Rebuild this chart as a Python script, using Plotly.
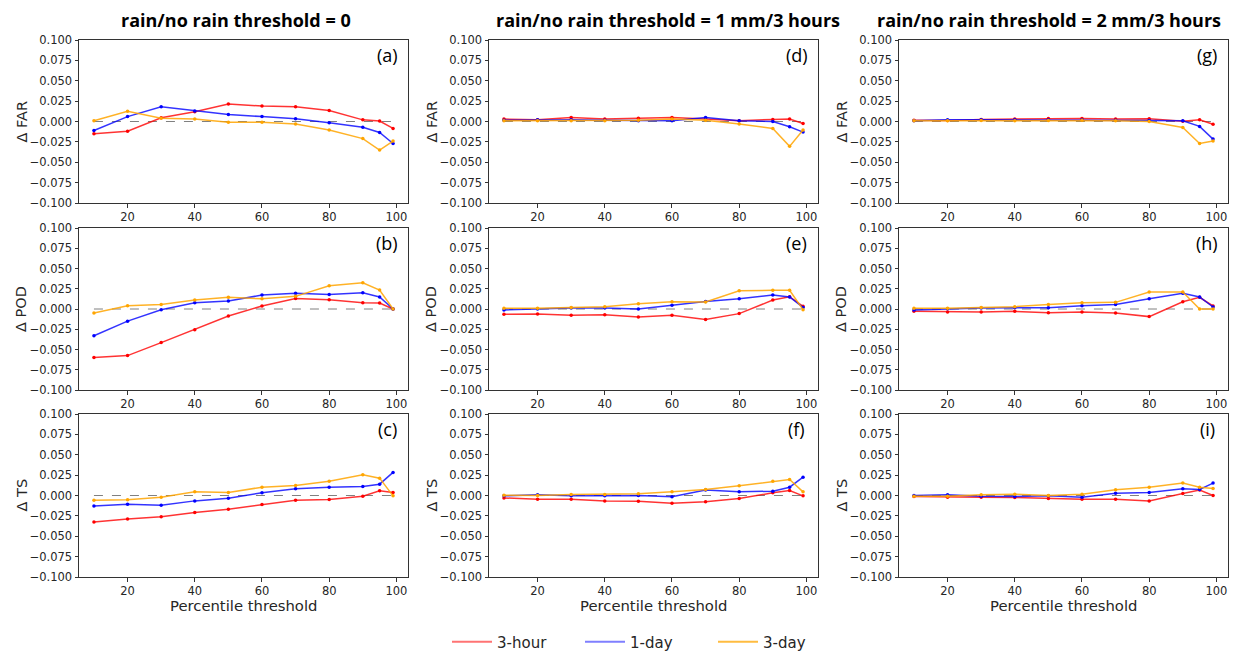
import plotly.graph_objects as go

percentiles = [10, 20, 30, 40, 50, 60, 70, 80, 90, 95, 99]
series_names = ["3-hour", "1-day", "3-day"]
line_colors = ["rgba(255,0,0,0.8)", "rgba(0,0,255,0.8)", "rgba(255,165,0,0.85)"]
legend_colors = ["rgba(255,0,0,0.55)", "rgba(0,0,255,0.5)", "rgba(255,165,0,0.75)"]
marker_colors = ["red", "blue", "orange"]
col_titles = ["rain/no rain threshold = 0",
              "rain/no rain threshold = 1 mm/3 hours",
              "rain/no rain threshold = 2 mm/3 hours"]
row_titles = ["Δ FAR", "Δ POD", "Δ TS"]
panel_labels = [["(a)", "(d)", "(g)"], ["(b)", "(e)", "(h)"], ["(c)", "(f)", "(i)"]]
x_ticks = [20, 40, 60, 80, 100]
y_ticks = [-0.1, -0.075, -0.05, -0.025, 0.0, 0.025, 0.05, 0.075, 0.1]

# threshold = 0
far_t0_3h = [-0.015, -0.012, 0.0045, 0.012, 0.0216, 0.019, 0.018, 0.0135, 0.002, 0.0005, -0.0085]
far_t0_1d = [-0.011, 0.006, 0.018, 0.013, 0.0085, 0.006, 0.0035, -0.0015, -0.007, -0.0135, -0.027]
far_t0_3d = [0.001, 0.0125, 0.004, 0.003, -0.001, -0.001, -0.003, -0.0105, -0.021, -0.035, -0.024]
pod_t0_3h = [-0.060, -0.0575, -0.0415, -0.0255, -0.0086, 0.0037, 0.013, 0.0115, 0.0078, 0.0074, 0.0]
pod_t0_1d = [-0.033, -0.015, -0.001, 0.0078, 0.0099, 0.0172, 0.0193, 0.018, 0.020, 0.0148, 0.0]
pod_t0_3d = [-0.005, 0.004, 0.0057, 0.011, 0.0144, 0.0127, 0.0156, 0.0287, 0.0324, 0.0234, 0.0]
ts_t0_3h = [-0.0324, -0.0287, -0.0262, -0.021, -0.0168, -0.011, -0.0057, -0.0049, -0.0008, 0.0057, 0.0037]
ts_t0_1d = [-0.013, -0.0107, -0.0119, -0.0066, -0.0033, 0.0033, 0.0082, 0.0102, 0.011, 0.0139, 0.0283]
ts_t0_3d = [-0.0057, -0.0053, -0.002, 0.0045, 0.0037, 0.0102, 0.0123, 0.0176, 0.0254, 0.0213, -0.0004]

# threshold = 1 mm/3 hours
far_t1_3h = [0.003, 0.002, 0.005, 0.003, 0.004, 0.005, 0.003, 0.001, 0.0025, 0.003, -0.0025]
far_t1_1d = [0.0015, 0.002, 0.002, 0.0015, 0.001, 0.001, 0.005, 0.001, 0.0, -0.0065, -0.013]
far_t1_3d = [0.001, 0.001, 0.001, 0.001, 0.0015, 0.003, 0.0015, -0.003, -0.0085, -0.0305, -0.0105]
pod_t1_3h = [-0.0066, -0.0062, -0.0078, -0.007, -0.0099, -0.0078, -0.013, -0.0057, 0.011, 0.0152, 0.0033]
pod_t1_1d = [-0.0012, 0.0, 0.0012, 0.0012, 0.0, 0.0045, 0.0094, 0.0127, 0.0172, 0.0148, 0.002]
pod_t1_3d = [0.0008, 0.0008, 0.002, 0.0029, 0.0066, 0.009, 0.0086, 0.0226, 0.023, 0.023, -0.0008]
ts_t1_3h = [-0.003, -0.0045, -0.0045, -0.0066, -0.007, -0.0094, -0.0078, -0.0037, 0.0033, 0.006, -0.0004]
ts_t1_1d = [-0.0004, 0.0008, -0.0004, -0.0004, 0.0, -0.0016, 0.0066, 0.0045, 0.0053, 0.0102, 0.0225]
ts_t1_3d = [0.0004, 0.0, 0.0012, 0.0012, 0.002, 0.0045, 0.0074, 0.0119, 0.0176, 0.0197, 0.0045]

# threshold = 2 mm/3 hours
far_t2_3h = [0.0016, 0.0012, 0.0025, 0.003, 0.0037, 0.0037, 0.003, 0.0033, 0.0004, 0.002, -0.0033]
far_t2_1d = [0.0008, 0.002, 0.002, 0.002, 0.002, 0.002, 0.0016, 0.0012, 0.0008, -0.006, -0.0216]
far_t2_3d = [0.0008, 0.0008, 0.0012, 0.0008, 0.0012, 0.0016, 0.0008, 0.0, -0.0073, -0.027, -0.024]
pod_t2_3h = [-0.0029, -0.0037, -0.0037, -0.0029, -0.0045, -0.0037, -0.0049, -0.0094, 0.009, 0.0144, 0.0037]
pod_t2_1d = [-0.0012, 0.0004, 0.0012, 0.0016, 0.0016, 0.0041, 0.0057, 0.0127, 0.0193, 0.0148, 0.0025]
pod_t2_3d = [0.0008, 0.0008, 0.002, 0.0029, 0.0057, 0.0078, 0.0082, 0.021, 0.021, 0.0, 0.0]
ts_t2_3h = [-0.0012, -0.002, -0.002, -0.0025, -0.0037, -0.0045, -0.0045, -0.0066, 0.0025, 0.0066, 0.0]
ts_t2_1d = [0.0, 0.0008, -0.0008, -0.0012, -0.0004, -0.002, 0.0029, 0.0037, 0.0082, 0.0074, 0.0152]
ts_t2_3d = [-0.0008, -0.0008, 0.0008, 0.0016, 0.0, 0.0016, 0.007, 0.0102, 0.0152, 0.0102, 0.0086]

panels = [
    [[far_t0_3h, far_t0_1d, far_t0_3d], [far_t1_3h, far_t1_1d, far_t1_3d], [far_t2_3h, far_t2_1d, far_t2_3d]],
    [[pod_t0_3h, pod_t0_1d, pod_t0_3d], [pod_t1_3h, pod_t1_1d, pod_t1_3d], [pod_t2_3h, pod_t2_1d, pod_t2_3d]],
    [[ts_t0_3h, ts_t0_1d, ts_t0_3d], [ts_t1_3h, ts_t1_1d, ts_t1_3d], [ts_t2_3h, ts_t2_1d, ts_t2_3d]],
]

# page geometry (the html body adds an 8 px margin around the figure)
PAGE_W, PAGE_H = 1239, 653
OFF = 8
W, H = PAGE_W - OFF, PAGE_H - OFF
col_px = [(79, 408), (489, 818), (899, 1228)]
row_px = [(40, 203), (228, 390), (414, 577)]
title_cx = [236, 668, 1049]


def px_x(v):
    return (v - OFF) / W


def px_y(v):
    return 1 - (v - OFF) / H


TICK_FONT = dict(family="DejaVu Sans", size=11.5, color="#262626")
fig = go.Figure()
layout = dict(width=W, height=H, margin=dict(l=0, r=0, t=0, b=0, autoexpand=False),
              template="none", plot_bgcolor="white", paper_bgcolor="white", showlegend=True)
annotations = []

span = max(percentiles) - min(percentiles)
xr = [min(percentiles) - 0.05 * span, max(percentiles) + 0.05 * span]

for r in range(3):
    for c in range(3):
        idx = r * 3 + c + 1
        xa = "xaxis" if idx == 1 else f"xaxis{idx}"
        ya = "yaxis" if idx == 1 else f"yaxis{idx}"
        xref = "x" if idx == 1 else f"x{idx}"
        yref = "y" if idx == 1 else f"y{idx}"
        x0, x1 = col_px[c]
        y0, y1 = row_px[r]
        layout[xa] = dict(domain=[px_x(x0), px_x(x1)], range=xr, anchor=yref, automargin=False,
                          tickvals=x_ticks, ticks="outside", ticklen=3.5, tickcolor="#333",
                          showline=True, linecolor="#333", linewidth=1, mirror=True,
                          showgrid=False, zeroline=False, tickfont=TICK_FONT)
        layout[ya] = dict(domain=[px_y(y1), px_y(y0)], range=[-0.1, 0.1], anchor=xref,
                          automargin=False, tickvals=y_ticks, tickformat=".3f", ticks="outside",
                          ticklen=3.5, tickcolor="#333", showline=True, linecolor="#333", linewidth=1,
                          mirror=True, showgrid=False, zeroline=False, tickfont=TICK_FONT)
        # zero reference line
        fig.add_trace(go.Scatter(x=[min(percentiles), max(percentiles)], y=[0, 0],
                                 mode="lines", line=dict(color="gray", width=1, dash="dash"),
                                 xaxis=xref, yaxis=yref, showlegend=False, hoverinfo="skip"))
        for s in range(3):
            fig.add_trace(go.Scatter(x=percentiles, y=panels[r][c][s], mode="lines+markers",
                                     name=series_names[s], legendgroup=series_names[s],
                                     showlegend=False,
                                     line=dict(color=line_colors[s], width=1.5),
                                     marker=dict(size=3.5, color=marker_colors[s]),
                                     xaxis=xref, yaxis=yref))
        annotations.append(dict(text=panel_labels[r][c], x=px_x(x1 - 21), y=px_y(y0 + 15),
                                xanchor="center", yanchor="middle",
                                xref="paper", yref="paper", showarrow=False,
                                font=dict(family="Open Sans", size=18, color="black")))

# legend entries (line only, as in the reference)
for s in range(3):
    fig.add_trace(go.Scatter(x=[None], y=[None], mode="lines", name=series_names[s],
                             legendgroup=series_names[s], showlegend=True,
                             line=dict(color=legend_colors[s], width=2)))

for c in range(3):
    annotations.append(dict(text="<b>" + col_titles[c] + "</b>", x=px_x(title_cx[c]), y=px_y(20),
                            xanchor="center", yanchor="middle",
                            xref="paper", yref="paper", showarrow=False,
                            font=dict(family="Open Sans", size=18, color="black")))
    annotations.append(dict(text="Percentile threshold", x=px_x((col_px[c][0] + col_px[c][1]) / 2),
                            y=px_y(605), xanchor="center", yanchor="middle",
                            xref="paper", yref="paper", showarrow=False,
                            font=dict(family="DejaVu Sans", size=14.8, color="#262626")))
for r in range(3):
    for c in range(3):
        annotations.append(dict(text=row_titles[r], x=px_x(col_px[c][0] - 58),
                                y=px_y((row_px[r][0] + row_px[r][1]) / 2),
                                xanchor="center", yanchor="middle",
                                xref="paper", yref="paper", showarrow=False, textangle=-90,
                                font=dict(family="DejaVu Sans", size=14.5, color="#262626")))

layout["annotations"] = annotations
layout["legend"] = dict(orientation="h", x=px_x(447), xanchor="left", y=px_y(642),
                        yanchor="middle", font=dict(family="DejaVu Sans", size=15, color="#262626"),
                        bgcolor="rgba(0,0,0,0)", itemwidth=40, entrywidth=78)
fig.update_layout(**layout)
fig.write_html("out.html")
